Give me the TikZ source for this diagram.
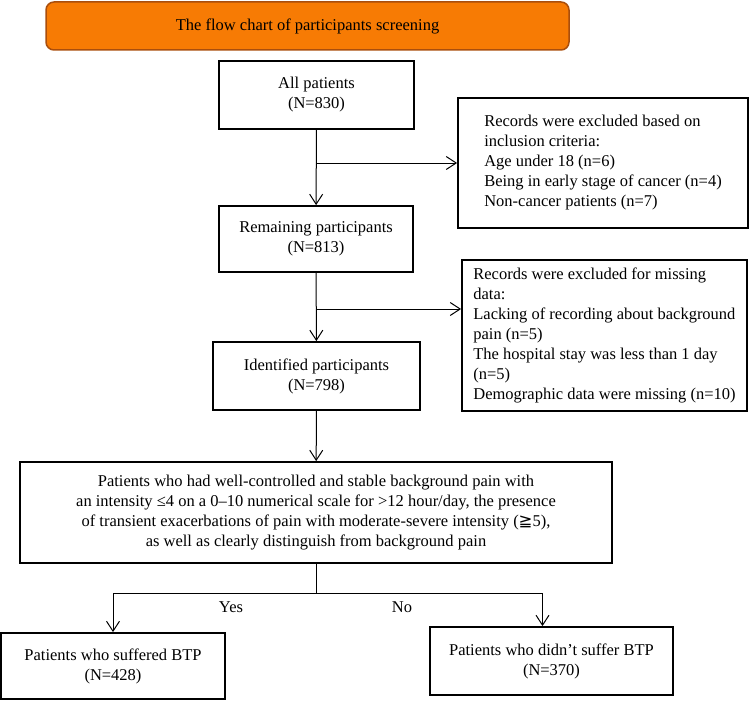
\documentclass[tikz,border=0pt]{standalone}
\usepackage{fontspec}
\setmainfont{Liberation Serif}
\newfontfamily\symfont{DejaVu Sans}
\usetikzlibrary{arrows.meta}
\definecolor{titleorange}{RGB}{247,123,4}
\definecolor{titleedge}{RGB}{170,78,12}

\begin{document}
\begin{tikzpicture}[x=1pt, y=-1pt,
  every node/.style={font=\fontsize{16.5}{20}\selectfont},
  box/.style={draw, line width=1.8pt, align=center, inner sep=0pt},
  sidebox/.style={box, align=left},
  flow/.style={line width=1pt, -{Straight Barb[length=10pt, width=13pt, line width=1pt]}}]
  \useasboundingbox (0,0) rectangle (749,701);

  % Title bar
  \node[box, draw=titleedge, fill=titleorange, rounded corners=8pt, line width=1.5pt,
        minimum width=523pt, minimum height=48pt] (title) at (307.5, 26)
        {The flow chart of participants screening};

  % Main column
  \node[box, minimum width=195pt, minimum height=68pt] (all) at (316.5, 95)
        {All patients\\(N=830)};
  \node[box, minimum width=194pt, minimum height=66pt] (remain) at (316, 239)
        {Remaining participants\\(N=813)};
  \node[box, minimum width=207pt, minimum height=68pt] (ident) at (316.5, 376)
        {Identified participants\\(N=798)};
  \node[box, minimum width=592pt, minimum height=101pt] (crit) at (316, 512.5)
        {Patients who had well-controlled and stable background pain with\\
         an intensity ≤4 on a 0–10 numerical scale for >12 hour/day, the presence\\
         of transient exacerbations of pain with moderate-severe intensity ({\symfont ≧}5),\\
         as well as clearly distinguish from background pain};

  % Exclusions
  \node[sidebox, minimum width=290pt, minimum height=130pt] (excl1) at (603, 163)
        {Records were excluded based on\\inclusion criteria:\\Age under 18 (n=6)\\
         Being in early stage of cancer (n=4)\\Non-cancer patients (n=7)};
  \node[sidebox, minimum width=285pt, minimum height=151pt] (excl2) at (604.5, 335.5)
        {Records were excluded for missing\\data:\\Lacking of recording about background\\
         pain (n=5)\\The hospital stay was less than 1 day\\(n=5)\\
         Demographic data were missing (n=10)};

  % Outcomes
  \node[box, minimum width=224pt, minimum height=66pt] (yes) at (113, 666)
        {Patients who suffered BTP\\(N=428)};
  \node[box, minimum width=243pt, minimum height=68pt] (no) at (551.5, 661)
        {Patients who didn’t suffer BTP\\(N=370)};

  % Arrows
  \draw[flow] (all) -- (remain);
  \draw[flow] (all.south |- excl1.west) -- (excl1.west);
  \coordinate (split2) at (remain.south |- 0, 309);
  \draw[flow] (remain) -- (ident);
  \draw[flow] (split2) -- (split2 -| excl2.west);
  \draw[flow] (ident) -- (crit);
  \draw[line width=1pt] (crit.south) -- ++(0, 30) coordinate (fork);
  \draw[flow] (fork) -| (yes.north);
  \draw[flow] (fork) -| ([xshift=-9pt]no.north);

  % Branch labels
  \node (yeslabel) at (231, 607) {Yes};
  \node (nolabel) at (402, 607) {No};
\end{tikzpicture}
\end{document}
